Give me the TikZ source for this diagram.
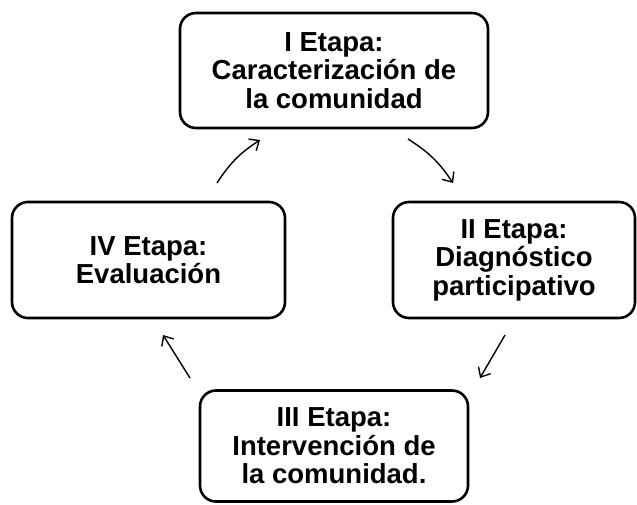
\documentclass[tikz,border=0pt]{standalone}
\usepackage{fontspec}
\setmainfont{Liberation Sans}
\usetikzlibrary{arrows.meta}
\begin{document}
\begin{tikzpicture}[x=1pt,y=-1pt,
  stage/.style={draw=black, line width=2.6pt, rounded corners=16pt, align=center,
    font=\fontsize{27.5}{28.5}\selectfont\bfseries, inner sep=0pt},
  flow/.style={-{Straight Barb[length=8pt,width=14pt,line width=1.4pt]}, line width=1.4pt}]
\useasboundingbox (0,0) rectangle (637,504);
\node[stage, minimum width=308, minimum height=115] (s1) at (334,70.5) {I Etapa:\\Caracterización de\\la comunidad};
\node[stage, minimum width=242, minimum height=116] (s2) at (514,260) {II Etapa:\\Diagnóstico\\participativo};
\node[stage, minimum width=268, minimum height=111] (s3) at (334,446) {III Etapa:\\Intervención de\\la comunidad.};
\node[stage, minimum width=273, minimum height=116] (s4) at (148.5,260) {IV Etapa:\\Evaluación};
\coordinate (a1s) at (408,139);
\coordinate (a1e) at (453,183);
\coordinate (a2s) at (505,335);
\coordinate (a2e) at (480,378);
\coordinate (a3s) at (190,378);
\coordinate (a3e) at (163,335);
\coordinate (a4s) at (217,183);
\coordinate (a4e) at (260,140);
\draw[flow] (a1s) to[bend left=12] (a1e);
\draw[flow] (a2s) -- (a2e);
\draw[flow] (a3s) -- (a3e);
\draw[flow] (a4s) to[bend left=12] (a4e);
\end{tikzpicture}
\end{document}
